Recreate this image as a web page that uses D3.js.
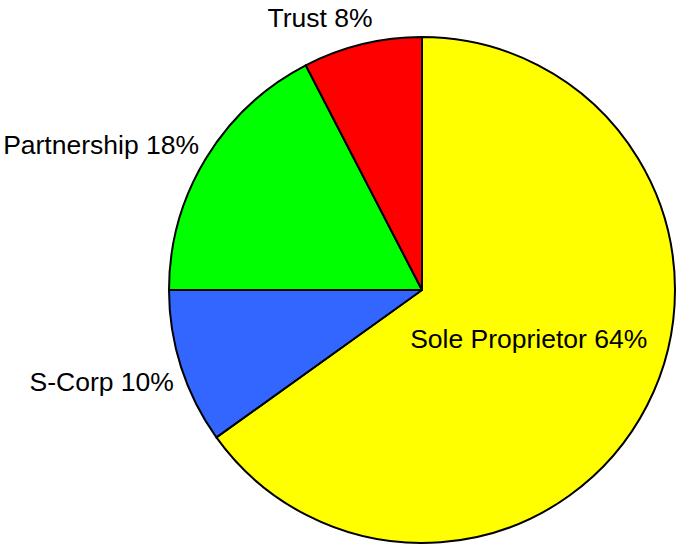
<!DOCTYPE html>
<html>
<head>
<meta charset="utf-8">
<script src="https://cdn.jsdelivr.net/npm/d3@7"></script>
<style>
  body { margin: 0; background: #fff; }
  svg { display: block; font-family: "Liberation Sans", Arial, sans-serif; }
</style>
</head>
<body>
<svg id="chart" width="680" height="546"></svg>
<script>
// data (slice sizes from the drawn angles, labels as printed)
const categories = ["Sole Proprietor", "S-Corp", "Partnership", "Trust"];
const shares = [65.1, 9.9, 17.4, 7.6];
const percentLabels = [64, 10, 18, 8];
const colors = ["#ffff00", "#3366ff", "#00ff00", "#ff0000"];

const data = categories.map((c, i) => ({ name: c, value: shares[i], pct: percentLabels[i], color: colors[i] }));

const svg = d3.select("#chart");
const cx = 422, cy = 290, radius = 253;

const g = svg.append("g").attr("transform", `translate(${cx},${cy})`);

const pie = d3.pie().sort(null).value(d => d.value);
const arc = d3.arc().innerRadius(0).outerRadius(radius);
const arcs = pie(data);

// Slices
g.selectAll(".slice")
  .data(arcs)
  .enter()
  .append("path")
  .attr("class", "slice")
  .attr("d", arc)
  .style("fill", d => d.data.color)
  .style("stroke", "#000")
  .style("stroke-width", 2)
  .style("stroke-linejoin", "round");

// Labels: big slice gets its label inside, the rest sit outside on the left
const innerLabelArc = d3.arc().innerRadius(120).outerRadius(120);
const outerLabelArc = d3.arc().innerRadius(268).outerRadius(268);
// small nudges so the labels sit where the original renderer put them
const labelShift = { "Sole Proprietor": [0, -6], "S-Corp": [7, 10], "Partnership": [6, -6], "Trust": [14, -12] };

g.selectAll(".label")
  .data(arcs)
  .enter()
  .append("text")
  .attr("class", "label")
  .attr("transform", (d, i) => {
    const p = i === 0 ? innerLabelArc.centroid(d) : outerLabelArc.centroid(d);
    const s = labelShift[d.data.name];
    return `translate(${p[0] + s[0]},${p[1] + s[1]})`;
  })
  .attr("dy", "0.35em")
  .attr("text-anchor", (d, i) => i === 0 ? "middle" : "end")
  .style("font-size", "26.5px")
  .style("fill", "#000")
  .text(d => `${d.data.name} ${d.data.pct}%`);
</script>
</body>
</html>
